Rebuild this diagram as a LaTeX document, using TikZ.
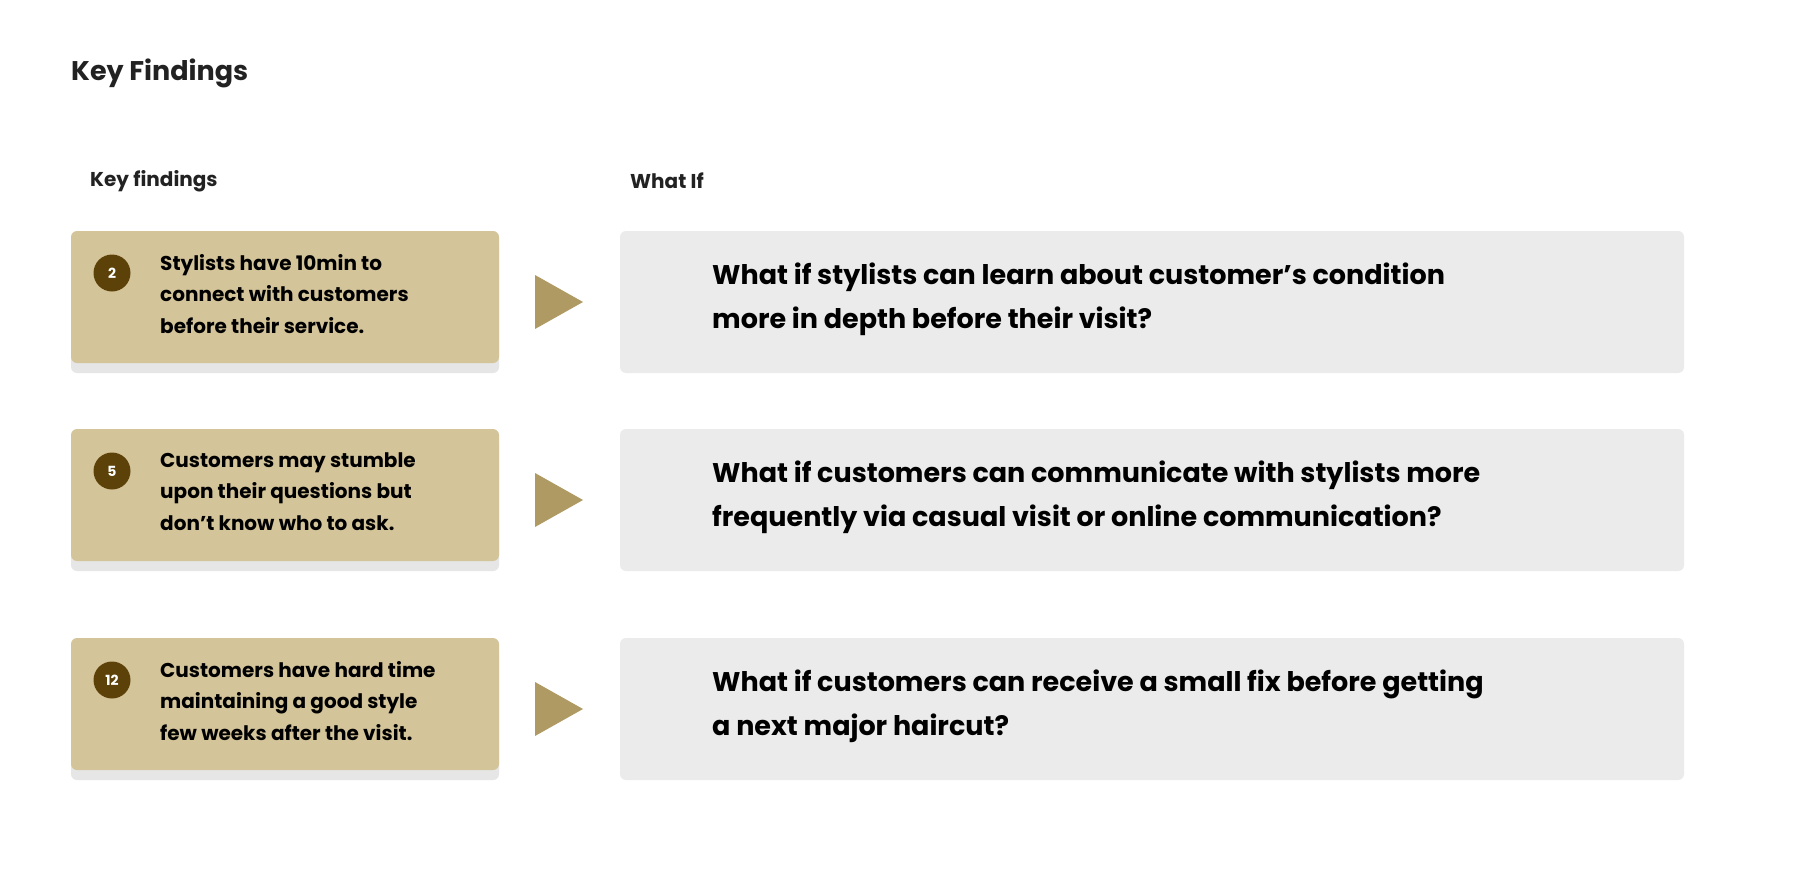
\documentclass[tikz,border=0pt]{standalone}
\usepackage{fontspec}
\setmainfont{Poppins}
\begin{document}
\begin{tikzpicture}[x=1pt,y=-1pt,
  card/.style={fill=cardc,rounded corners=6pt,draw=none},
  shad/.style={fill=shadc,rounded corners=6pt,draw=none},
  grey/.style={fill=greyc,rounded corners=6pt,draw=none},
  num/.style={circle,fill=numc,text=white,minimum size=37pt,inner sep=0pt,font=\fontsize{14}{14}\selectfont\bfseries},
  ctext/.style={anchor=north west,align=left,inner sep=0pt,font=\fontsize{20}{31.5}\selectfont\bfseries},
  gtext/.style={anchor=west,align=left,inner sep=0pt,font=\fontsize{27}{44}\selectfont\bfseries},
  tri/.style={fill=tric,draw=none}]
\definecolor{cardc}{HTML}{D4C49A}
\definecolor{shadc}{HTML}{E6E6E6}
\definecolor{greyc}{HTML}{EBEBEB}
\definecolor{numc}{HTML}{5C4108}
\definecolor{tric}{HTML}{AF9A63}
\definecolor{txt}{HTML}{222222}
\useasboundingbox[fill=white] (0,0) rectangle (1820,891);
\node[anchor=west,inner sep=0pt,font=\fontsize{27}{27}\selectfont\bfseries,text=txt] (title) at (71,73) {Key Findings};
\node[anchor=west,inner sep=0pt,font=\fontsize{20}{20}\selectfont\bfseries,text=txt] (h1) at (90,181) {Key findings};
\node[anchor=west,inner sep=0pt,font=\fontsize{20}{20}\selectfont\bfseries,text=txt] (h2) at (630,181) {What If};
\foreach \t/\n/\a/\b in {231/2/{Stylists have 10min to\\connect with customers\\before their service.}/{What if stylists can learn about customer’s condition\\more in depth before their visit?},
  429/5/{Customers may stumble\\upon their questions but\\don’t know who to ask.}/{What if customers can communicate with stylists more\\frequently via casual visit or online communication?},
  638/12/{Customers have hard time\\maintaining a good style\\few weeks after the visit.}/{What if customers can receive a small fix before getting\\a next major haircut?}}{
  \fill[shad] (71,\t+10) rectangle (499,\t+142);
  \fill[card] (71,\t) rectangle (499,\t+132);
  \node[num] (n\n) at (112,\t+42) {\n};
  \node[ctext] (c\n) at (160,\t+23) {\a};
  \fill[tri] (535,\t+44) -- (583,\t+71) -- (535,\t+98) -- cycle;
  \fill[grey] (620,\t) rectangle (1684,\t+142);
  \node[gtext] (g\n) at (712,\t+68) {\b};
}
\end{tikzpicture}
\end{document}
